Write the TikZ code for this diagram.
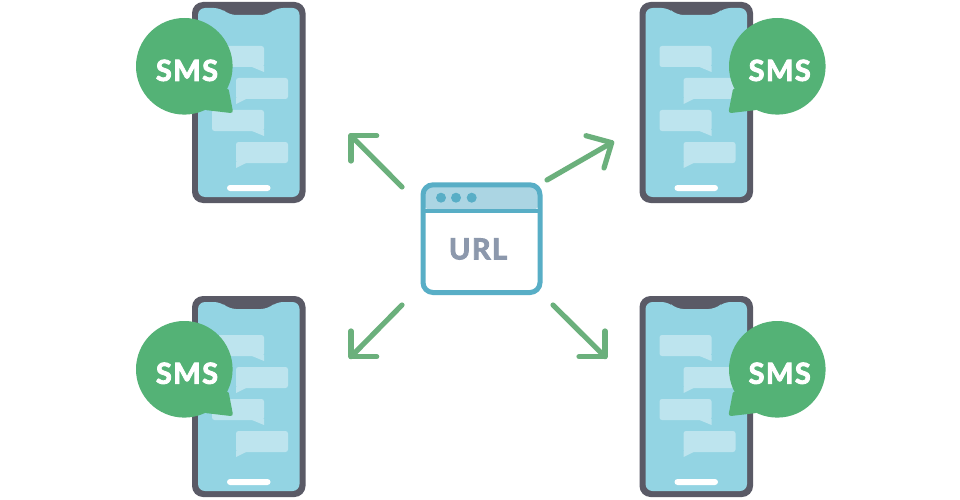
\documentclass[tikz,border=0pt]{standalone}
\usepackage{fontspec}
\setmainfont{Lato}
\newfontfamily\heavyfont{Lato}[BoldFeatures={FakeBold=3},LetterSpace=5]
\definecolor{frame}{HTML}{5A5A66}
\definecolor{screen}{HTML}{93D4E3}
\definecolor{chat}{HTML}{BDE4EE}
\definecolor{smsgreen}{HTML}{54B276}
\definecolor{arrowgreen}{HTML}{6BB07C}
\definecolor{winblue}{HTML}{58AEC6}
\definecolor{winbar}{HTML}{ABD5E3}
\definecolor{urlgrey}{HTML}{8C98AC}
\tikzset{
  x=1pt,y=-1pt,
  arrowline/.style={draw=arrowgreen,line width=5.2pt,line cap=round,line join=round},
  smstext/.style={text=white,font=\heavyfont\bfseries\fontsize{29}{29}\selectfont,inner sep=0pt},
  urltext/.style={text=urlgrey,font=\heavyfont\bfseries\fontsize{29}{29}\selectfont,inner sep=0pt},
  pics/phone/.style={code={
    \fill[frame,rounded corners=11pt] (0,0) rectangle (113.5,201);
    \fill[screen,rounded corners=7pt] (6,6) -- (29,6) -- (37,13) -- (76,13) -- (84,6) -- (107.5,6) -- (107.5,195) -- (6,195) -- cycle;
    \begin{scope}[yshift=#1]
    \foreach \yy in {44,108}{
      \fill[chat,rounded corners=2.5pt] (20,\yy) -- (72,\yy) -- (72,\yy+15) -- (72,\yy+21) -- (20,\yy+21) -- cycle;
      \fill[chat] (60,\yy+21) -- (72,\yy+26) -- (72,\yy+20) -- cycle;
    }
    \foreach \yy in {76,140}{
      \fill[chat,rounded corners=2.5pt] (44,\yy) -- (96,\yy) -- (96,\yy+21) -- (44,\yy+21) -- cycle;
      \fill[chat] (44,\yy+20) -- (44,\yy+26) -- (54,\yy+21) -- cycle;
    }
    \end{scope}
    \fill[white,rounded corners=3pt] (35,183) rectangle (78.5,189);
  }}
}
\begin{document}
\begin{tikzpicture}
\useasboundingbox (0,0) rectangle (960,500);
\fill[white] (0,0) rectangle (960,500);
\pic at (192,2) {phone=0pt};
\pic at (639.5,2) {phone=0pt};
\pic at (192,296) {phone=5pt};
\pic at (639.5,296) {phone=5pt};
% speech bubbles
\coordinate (b1) at (184.3,66.3);
\coordinate (b2) at (777.3,66.3);
\coordinate (b3) at (184.3,369.3);
\coordinate (b4) at (777.3,369.3);
\foreach \c/\s in {b1/1,b3/1,b2/-1,b4/-1}{
  \begin{scope}[shift={(\c)},xscale=\s]
    \fill[smsgreen] (0,0) circle[radius=48.3];
    \fill[smsgreen,rounded corners=3pt] (44,21) -- (49,47) -- (19,43.5) -- cycle;
  \end{scope}
}
\node[smstext] (s1) at (187,70.4) {SMS};
\node[smstext] (s2) at (779.7,70.4) {SMS};
\node[smstext] (s3) at (187,373.3) {SMS};
\node[smstext] (s4) at (779.7,373.3) {SMS};
% browser window
\fill[winbar,rounded corners=9pt] (423,210.5) -- (423,184.8) -- (540,184.8) -- (540,210.5) -- cycle;
\draw[winblue,line width=5pt,rounded corners=10pt] (423,184.8) rectangle (540,292.5);
\draw[winblue,line width=4.4pt] (423,210.7) -- (540,210.7);
\foreach \xx in {441,456,471.7}{\fill[winblue] (\xx,197.7) circle[radius=5];}
\node[urltext] (url) at (478,249) {URL};
\coordinate (a1s) at (402,187); \coordinate (a1e) at (351,135.7);
\coordinate (a2s) at (547,180); \coordinate (a2e) at (611.7,142.7);
\coordinate (a3s) at (402,305); \coordinate (a3e) at (351,356.7);
\coordinate (a4s) at (553,305); \coordinate (a4e) at (605,356.7);
\draw[arrowline] (a1s) -- (a1e);
\draw[arrowline] (351,161) -- (a1e) -- (376.7,135.7);
\draw[arrowline] (a2s) -- (a2e);
\draw[arrowline] (586,135.7) -- (a2e) -- (604,168);
\draw[arrowline] (a3s) -- (a3e);
\draw[arrowline] (351,331) -- (a3e) -- (376.7,356.7);
\draw[arrowline] (a4s) -- (a4e);
\draw[arrowline] (605,331) -- (a4e) -- (579,356.7);
\end{tikzpicture}
\end{document}
